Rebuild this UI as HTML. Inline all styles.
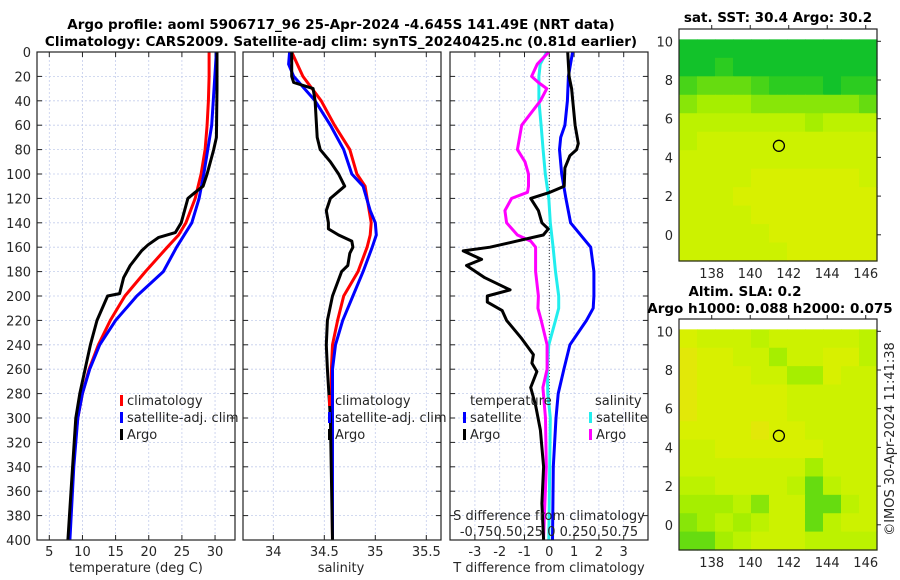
<!DOCTYPE html>
<html><head><meta charset="utf-8"><style>
html,body{margin:0;padding:0;background:#fff}
svg{display:block;font-family:"DejaVu Sans","Liberation Sans",sans-serif}
</style></head><body>
<svg id="c" width="900" height="580" viewBox="0 0 900 580" xmlns="http://www.w3.org/2000/svg">
<g id="g"></g>
</svg>
<script>
// ---------- data ----------
const depthTicks=[0,20,40,60,80,100,120,140,160,180,200,220,240,260,280,300,320,340,360,380,400];
const tempTicks=[5,10,15,20,25,30];
const salTicks=[34,34.5,35,35.5];
const salTickLabels=["34","34.5","35","35.5"];
const dTTicks=[-3,-2,-1,0,1,2,3];
// panel 1 temperature
const tClimD=[0,20,40,60,80,100,120,140,150,160,180,200,220,240,260,280,300,320,340,360,380,400];
const tClimV=[29.1,29.1,29.0,28.8,28.5,27.9,27.0,25.6,24.5,22.8,19.5,16.4,14.2,12.4,11.0,10.0,9.3,8.9,8.6,8.4,8.2,8.0];
const tSatD=[0,60,100,120,140,160,180,200,220,240,260,280,300,340,400];
const tSatV=[30.2,29.5,28.3,27.6,26.5,24.2,22.2,18.2,15.0,12.6,11.1,10.0,9.3,8.7,8.1];
const tArgoD=[0,30,70,80,100,110,115,120,140,148,152,158,163,175,185,198,200,220,240,260,280,300,350,400];
const tArgoV=[30.3,30.3,30.2,29.8,28.8,28.2,27.0,25.9,24.9,24.0,21.5,19.9,18.9,17.2,16.2,15.6,13.8,12.2,11.2,10.4,9.6,9.0,8.4,7.8];
// panel 2 salinity
const sClimD=[0,20,40,60,80,100,110,140,150,160,180,200,220,240,260,300,400];
const sClimV=[34.18,34.29,34.47,34.60,34.75,34.82,34.90,34.96,34.95,34.92,34.83,34.69,34.63,34.58,34.57,34.57,34.58];
const sSatD=[0,10,20,40,60,80,100,110,130,140,150,160,180,200,220,240,260,400];
const sSatV=[34.16,34.15,34.20,34.41,34.56,34.69,34.77,34.88,34.95,35.0,35.01,34.97,34.88,34.78,34.68,34.61,34.58,34.58];
const sArgoD=[0,20,25,30,40,70,80,90,100,110,120,130,140,145,150,155,160,165,175,180,200,220,240,260,300,400];
const sArgoV=[34.18,34.18,34.20,34.39,34.41,34.43,34.46,34.56,34.64,34.70,34.56,34.52,34.54,34.54,34.64,34.77,34.78,34.75,34.73,34.67,34.58,34.53,34.52,34.53,34.56,34.58];
// panel 3 differences
const dTSatD=[0,20,40,60,70,80,100,120,140,160,180,200,210,220,240,260,280,300,340,400];
const dTSatV=[0.94,0.77,0.73,0.63,0.46,0.41,0.5,0.67,0.86,1.67,1.8,1.8,1.77,1.5,0.83,0.59,0.36,0.27,0.16,0.13];
const dTArgoD=[0,20,30,60,75,80,85,95,110,115,120,130,140,145,150,155,160,163,170,175,185,195,200,205,212,220,235,248,255,262,275,290,310,340,370,400];
const dTArgoV=[0.74,0.8,0.9,1.04,1.17,1.1,0.83,0.63,0.6,0.03,-0.75,-0.44,-0.3,-0.04,-0.24,-1.31,-2.39,-3.47,-2.73,-3.34,-2.6,-1.58,-2.5,-2.5,-1.9,-1.72,-1.11,-0.64,-0.7,-0.5,-0.75,-0.55,-0.36,-0.23,-0.3,-0.23];
const dSSatD=[0,10,20,40,60,80,100,120,140,160,180,200,210,220,240,260,280,300,400];
const dSSatV=[-0.025,-0.092,-0.105,-0.105,-0.083,-0.062,-0.04,-0.005,0.01,0.038,0.062,0.095,0.095,0.062,-0.005,-0.02,-0.015,0.01,-0.005];
const dSArgoD=[0,10,20,25,30,40,60,80,90,100,110,115,120,130,140,150,155,160,180,200,210,220,240,260,275,300,340,400];
const dSArgoV=[-0.005,-0.122,-0.178,-0.11,-0.025,-0.09,-0.278,-0.322,-0.245,-0.21,-0.21,-0.22,-0.38,-0.448,-0.43,-0.322,-0.188,-0.138,-0.138,-0.11,-0.115,-0.082,-0.022,-0.022,-0.065,-0.038,-0.03,-0.058];
// maps
const latTicks=[10,8,6,4,2,0];
const lonTicks=[138,140,142,144,146];
const sstGrid=["00000000000","00100000000","23332111011","45554444443","66666665666","67777777777","77777777777","77778888887","77788888888","77778888888","77777888888","77777788888"];
const slaGrid=["87776777776","98877577886","98887755877","98888877777","98888877777","88889887777","77888888777","77777775777","66777763677","55564773367","45656773677","33567776666"];
const argoLon=141.49, argoLat=4.6;
const palette=["#12c22a","#2ccc20","#48d418","#66dc10","#88e608","#a6ee00","#bcf200","#ccf200","#d8f000","#e2e808"];

// ---------- helpers ----------
const NS="http://www.w3.org/2000/svg";
const G=document.getElementById('g');
function mk(tag,at,parent){const e=document.createElementNS(NS,tag);for(const k in at)e.setAttribute(k,at[k]);(parent||G).appendChild(e);return e;}
function txt(s,at,parent){const e=mk('text',at,parent);e.textContent=s;return e;}
const Y0=52,Y1=540;
const yD=d=>Y0+d*(Y1-Y0)/400;
const xT=t=>49.3+(t-5)*6.63;
const xS=s=>273.3+(s-34)*102;
const xDT=v=>549.3+v*24.8;
const xDS=v=>549.3+v*4*24.8;

function panel(x0,x1,gridXs,name){
  const p=mk('g',{});
  
  
  mk('rect',{x:x0,y:Y0,width:x1-x0,height:Y1-Y0,fill:'#fff'},p);
  depthTicks.forEach(d=>{ if(d>0&&d<400) mk('line',{x1:x0,x2:x1,y1:yD(d),y2:yD(d),stroke:'#c4cdec','stroke-width':0.8,'stroke-dasharray':'2,2'},p);
    mk('line',{x1:x0,x2:x0+5,y1:yD(d),y2:yD(d),stroke:'#222'},p);
    mk('line',{x1:x1-5,x2:x1,y1:yD(d),y2:yD(d),stroke:'#222'},p);});
  gridXs.forEach(x=>{mk('line',{x1:x,x2:x,y1:Y0,y2:Y1,stroke:'#c4cdec','stroke-width':0.8,'stroke-dasharray':'2,2'},p);
    mk('line',{x1:x,x2:x,y1:Y1-5,y2:Y1,stroke:'#222'},p);mk('line',{x1:x,x2:x,y1:Y0,y2:Y0+5,stroke:'#222'},p);});
  return p;
}
function line(D,V,fx,color,name,w){
  const pts=D.map((d,i)=>fx(V[i]).toFixed(1)+','+yD(d).toFixed(1)).join(' ');
  const e=mk('polyline',{points:pts,fill:'none',stroke:color,'stroke-width':w||3,'stroke-linejoin':'round'});
  
  
  return e;
}
function frame(x0,x1){mk('rect',{x:x0,y:Y0,width:x1-x0,height:Y1-Y0,fill:'none',stroke:'#222','stroke-width':1.2});}

// titles
let t1=txt('Argo profile: aoml 5906717_96 25-Apr-2024 -4.645S 141.49E (NRT data)',{x:341,y:29,'text-anchor':'middle','font-size':13.5,'font-weight':'bold'});

let t2=txt('Climatology: CARS2009. Satellite-adj clim: synTS_20240425.nc (0.81d earlier)',{x:341,y:46,'text-anchor':'middle','font-size':13.5,'font-weight':'bold'});


// panel 1
panel(37,235,tempTicks.map(xT),'temperature-panel');
depthTicks.forEach(d=>{const e=txt(String(d),{x:31,y:yD(d)+5,'text-anchor':'end','font-size':13,fill:'#262626'});
  });
tempTicks.forEach(t=>{const e=txt(String(t),{x:xT(t),y:556,'text-anchor':'middle','font-size':13,fill:'#262626'});
  });
line(tClimD,tClimV,xT,'#ff0000','temp-climatology-line');
line(tSatD,tSatV,xT,'#0000ff','temp-satellite-line');
line(tArgoD,tArgoV,xT,'#000000','temp-argo-line');
frame(37,235);
let xl1=txt('temperature (deg C)',{x:136,y:572,'text-anchor':'middle','font-size':13,fill:'#262626'});


// panel 2
panel(243,441,salTicks.map(xS),'salinity-panel');
salTicks.forEach((s,i)=>{const e=txt(salTickLabels[i],{x:xS(s),y:556,'text-anchor':'middle','font-size':13,fill:'#262626'});
  });
line(sClimD,sClimV,xS,'#ff0000','salinity-climatology-line');
line(sSatD,sSatV,xS,'#0000ff','salinity-satellite-line');
line(sArgoD,sArgoV,xS,'#000000','salinity-argo-line');
frame(243,441);
let xl2=txt('salinity',{x:341,y:572,'text-anchor':'middle','font-size':13,fill:'#262626'});


// panel 3
panel(450,648,dTTicks.map(xDT),'difference-panel');
mk('line',{x1:xDT(0),x2:xDT(0),y1:Y0,y2:Y1,stroke:'#333','stroke-width':1,'stroke-dasharray':'1,2'});
dTTicks.forEach(t=>{const e=txt(String(t),{x:xDT(t),y:556,'text-anchor':'middle','font-size':13,fill:'#262626'});
  });
line(dSSatD,dSSatV,xDS,'#22eeee','salinity-diff-satellite-line');
line(dSArgoD,dSArgoV,xDS,'#ff00ff','salinity-diff-argo-line');
line(dTSatD,dTSatV,xDT,'#0000ff','temp-diff-satellite-line');
line(dTArgoD,dTArgoV,xDT,'#000000','temp-diff-argo-line');
frame(450,648);
let xl3=txt('T difference from climatology',{x:549,y:572,'text-anchor':'middle','font-size':13,fill:'#262626'});

let sl=txt('S difference from climatology',{x:549,y:520,'text-anchor':'middle','font-size':13,fill:'#262626'});

let st=txt('-0.750.50.25 0  0.250.50.75',{x:549,y:536,'text-anchor':'middle','font-size':13,fill:'#262626','xml:space':'preserve'});


// legends
function legItem(x,y,color,label,name){
  const g=mk('g',{});
  mk('rect',{x:x,y:y-10,width:3,height:11,fill:color},g);
  txt(label,{x:x+7,y:y,'font-size':13,fill:'#262626'},g);
}
legItem(120,405,'#ff0000','climatology','legend-climatology');
legItem(120,422,'#0000ff','satellite-adj. clim','legend-satellite');
legItem(120,439,'#000000','Argo','legend-argo');
legItem(328,405,'#ff0000','climatology','legend2-climatology');
legItem(328,422,'#0000ff','satellite-adj. clim','legend2-satellite');
legItem(328,439,'#000000','Argo','legend2-argo');
let lt=txt('temperature',{x:470,y:405,'font-size':13,fill:'#262626'});
let ls=txt('salinity',{x:595,y:405,'font-size':13,fill:'#262626'});
legItem(463,422,'#0000ff','satellite','legend-dt-satellite');
legItem(463,439,'#000000','Argo','legend-dt-argo');
legItem(589,422,'#22eeee','satellite','legend-ds-satellite');
legItem(589,439,'#ff00ff','Argo','legend-ds-argo');

// maps
function map(top,bottom,dataTop,grid,name,title){
  const mx0=679,mx1=877;
  const lonL=136.3,lonR=146.6,latT=10.1,latB=-1.34;
  const lat10=top+12.3;const pxDeg=19.35;
  const yL=l=>lat10+(10-l)*pxDeg;
  const xL=l=>mx0+(l-lonL)*19.25;
  const g=mk('g',{});
  mk('rect',{x:mx0,y:top,width:mx1-mx0,height:bottom-top,fill:'#fff'},g);
  const rows=grid.length,cols=grid[0].length;
  const cy0=yL(latT),cy1=bottom;
  const ch=(cy1-cy0)/rows,cw=(mx1-mx0)/cols;
  grid.forEach((row,r)=>{for(let c=0;c<cols;c++){
    const cell=mk('rect',{x:(mx0+c*cw).toFixed(2),y:(cy0+r*ch).toFixed(2),width:(cw+0.6).toFixed(2),height:(ch+0.6).toFixed(2),fill:palette[+row[c]]},g);
    
    }});
  mk('circle',{cx:xL(argoLon),cy:yL(argoLat),r:5.5,fill:'none',stroke:'#000','stroke-width':1.3},g);
  mk('rect',{x:mx0,y:top,width:mx1-mx0,height:bottom-top,fill:'none',stroke:'#222','stroke-width':1.2},g);
  latTicks.forEach(l=>{mk('line',{x1:mx1,x2:mx1+4,y1:yL(l),y2:yL(l),stroke:'#222'},g);
    const e=txt(String(l),{x:mx0-6,y:yL(l)+5,'text-anchor':'end','font-size':13,fill:'#262626'},g);
    });
  lonTicks.forEach(l=>{mk('line',{x1:xL(l),x2:xL(l),y1:top-4,y2:top,stroke:'#222'},g);
    const e=txt(String(l),{x:xL(l),y:bottom+17,'text-anchor':'middle','font-size':13,fill:'#262626'},g);
    });
}
map(29,261,39,sstGrid,'sst-map');
map(319,550,329,slaGrid,'sla-map');
let mt1=txt('sat. SST: 30.4 Argo: 30.2',{x:778,y:22,'text-anchor':'middle','font-size':13.5,'font-weight':'bold'});

let mt2=txt('Altim. SLA: 0.2',{x:745,y:296,'text-anchor':'middle','font-size':13.5,'font-weight':'bold'});

let mt3=txt('Argo h1000: 0.088 h2000: 0.075',{x:770,y:313,'text-anchor':'middle','font-size':13.5,'font-weight':'bold'});

let cp=txt('©IMOS 30-Apr-2024 11:41:38',{x:0,y:0,'text-anchor':'middle','font-size':13,fill:'#262626',transform:'translate(894,439) rotate(-90)'});

</script>
</body></html>
